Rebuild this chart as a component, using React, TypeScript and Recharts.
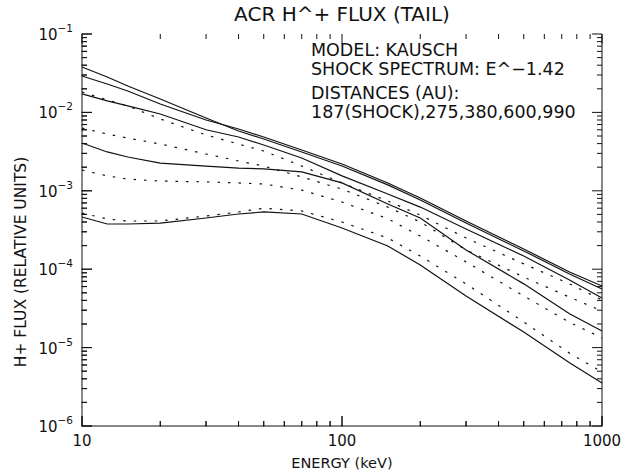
import { ComposedChart, Line, ReferenceLine, Scatter, XAxis, YAxis } from 'recharts';

const ENERGY_KEV = [10, 12.5, 15, 20, 30, 40, 50, 70, 100, 150, 200, 300, 500, 750, 1000];

// solid curves
const SOLID_1 = [0.038, 0.0283, 0.0217, 0.0148, 0.00849, 0.00579, 0.00458, 0.00313, 0.00207, 0.00119, 0.000763, 0.000388, 0.000171, 8.7e-5, 5.6e-5];
const SOLID_2 = [0.0291, 0.023, 0.01875, 0.0128, 0.008, 0.00614, 0.00486, 0.00332, 0.0022, 0.00126, 0.00081, 0.000412, 0.000181, 9.2e-5, 6.1e-5];
const SOLID_3 = [0.0172, 0.014, 0.0121, 0.00954, 0.006, 0.00486, 0.00384, 0.00262, 0.00155, 0.00091, 0.00062, 0.000326, 0.000147, 7.3e-5, 4.3e-5];
const SOLID_4 = [0.00407, 0.00313, 0.0027, 0.00226, 0.00207, 0.00195, 0.0019, 0.00174, 0.00126, 0.00068, 0.00045, 0.000176, 6.5e-5, 2.7e-5, 1.63e-5];
const SOLID_5 = [0.000463, 0.000377, 0.000377, 0.000388, 0.00045, 0.000506, 0.000537, 0.000506, 0.000335, 0.000198, 0.000113, 4.55e-5, 1.58e-5, 6.4e-6, 3.54e-6];

// dotted curves
const DOTTED_1 = [0.0182, 0.0144, 0.0121, 0.00824, 0.00515, 0.00395, 0.00322, 0.00207, 0.00126, 0.00074, 0.00049, 0.00025, 0.000117, 6.5e-5, 4.05e-5];
const DOTTED_2 = [0.0063, 0.0053, 0.0047, 0.00395, 0.00295, 0.0024, 0.00207, 0.0015, 0.00105, 0.00062, 0.0004, 0.000176, 7.95e-5, 4.4e-5, 2.93e-5];
const DOTTED_3 = [0.00184, 0.00155, 0.00141, 0.00133, 0.0013, 0.00126, 0.00122, 0.00102, 0.00072, 0.00044, 0.000265, 0.000124, 4.55e-5, 2.1e-5, 1.33e-5];
const DOTTED_4 = [0.00052, 0.000437, 0.000412, 0.000412, 0.000477, 0.000537, 0.0006, 0.000553, 0.0004, 0.00025, 0.000147, 6.5e-5, 2.12e-5, 8.5e-6, 4.9e-6];

const X_DOMAIN = [10, 1000];
const Y_DOMAIN = [1e-6, 1e-1];
const X_DECADES = [10, 100];
const X_MAJOR = [10, 100, 1000];
const Y_DECADES = [1e-6, 1e-5, 1e-4, 1e-3, 1e-2];
const Y_MAJOR = [1e-6, 1e-5, 1e-4, 1e-3, 1e-2, 1e-1];
const MINOR_STEPS = [2, 3, 4, 5, 6, 7, 8, 9];

const X_TICKS = [...X_MAJOR, ...X_DECADES.flatMap((d) => MINOR_STEPS.map((m) => m * d))].sort((a, b) => a - b);
const Y_TICKS = [...Y_MAJOR, ...Y_DECADES.flatMap((d) => MINOR_STEPS.map((m) => m * d))].sort((a, b) => a - b);

// tick lengths as fractions of a decade (major 10px, minor 5px on this box)
const X_TICK_DEC = { major: 0.0385, minor: 0.0193 };
const Y_TICK_DEC = { major: 0.1276, minor: 0.0638 };

const SERIES = [
  { key: 's1', values: SOLID_1, dashed: false },
  { key: 's2', values: SOLID_2, dashed: false },
  { key: 's3', values: SOLID_3, dashed: false },
  { key: 's4', values: SOLID_4, dashed: false },
  { key: 's5', values: SOLID_5, dashed: false },
  { key: 'd1', values: DOTTED_1, dashed: true },
  { key: 'd2', values: DOTTED_2, dashed: true },
  { key: 'd3', values: DOTTED_3, dashed: true },
  { key: 'd4', values: DOTTED_4, dashed: true },
];

const rows = ENERGY_KEV.map((energy, i) => {
  const row: Record<string, number> = { energy };
  SERIES.forEach((s) => {
    row[s.key] = s.values[i];
  });
  return row;
});

const isMajor = (v: number) => Math.abs(Math.log10(v) - Math.round(Math.log10(v))) < 1e-6;

// segments for the inward ticks on the four sides
const tickSegments = [
  ...X_TICKS.flatMap((v) => {
    const f = 10 ** (isMajor(v) ? Y_TICK_DEC.major : Y_TICK_DEC.minor);
    return [
      [{ x: v, y: Y_DOMAIN[0] }, { x: v, y: Y_DOMAIN[0] * f }],
      [{ x: v, y: Y_DOMAIN[1] }, { x: v, y: Y_DOMAIN[1] / f }],
    ];
  }),
  ...Y_TICKS.flatMap((v) => {
    const f = 10 ** (isMajor(v) ? X_TICK_DEC.major : X_TICK_DEC.minor);
    return [
      [{ x: X_DOMAIN[0], y: v }, { x: X_DOMAIN[0] * f, y: v }],
      [{ x: X_DOMAIN[1], y: v }, { x: X_DOMAIN[1] / f, y: v }],
    ];
  }),
];

const bottomMarks = X_TICKS.map((v) => ({ energy: v, flux: Y_DOMAIN[0] }));
const leftMarks = Y_TICKS.map((v) => ({ energy: X_DOMAIN[0], flux: v }));

const FONT = '"DejaVu Sans", sans-serif';
const INK = '#111';

function BottomMark(props: any) {
  const px = Number(props.cx ?? props.x);
  const py = Number(props.cy ?? props.y);
  const len = isMajor(props.payload.energy) ? 10 : 5;
  return (
    <g>
      <circle cx={px} cy={py} r={0.6} fill={INK} />
      <path d={`M${px},${py}v${-len}`} stroke={INK} strokeWidth={1} fill="none" />
    </g>
  );
}

function LeftMark(props: any) {
  const px = Number(props.cx ?? props.x);
  const py = Number(props.cy ?? props.y);
  const len = isMajor(props.payload.flux) ? 10 : 5;
  return (
    <g>
      <circle cx={px} cy={py} r={0.6} fill={INK} />
      <path d={`M${px},${py}h${len}`} stroke={INK} strokeWidth={1} fill="none" />
    </g>
  );
}

function BottomLabel({ x, y, payload }: any) {
  return (
    <text x={x} y={Number(y) + 20} textAnchor="middle" fontSize={15} fontFamily={FONT} fill={INK}>
      {String(payload.value)}
    </text>
  );
}

function LeftLabel({ x, y, payload }: any) {
  const exp = Math.round(Math.log10(payload.value));
  return (
    <text x={Number(x) - 9} y={Number(y) + 6} textAnchor="end" fontSize={15} fontFamily={FONT} fill={INK}>
      10
      <tspan dy={-8} fontSize={10.5}>
        {'\u2212' + Math.abs(exp)}
      </tspan>
    </text>
  );
}

export default function App() {
  return (
    <div style={{ position: 'absolute', left: 0, top: 0, width: 632, height: 473, background: '#fff' }}>
      <svg width={632} height={473} style={{ position: 'absolute', left: 0, top: 0 }} fontFamily={FONT} fill={INK}>
        <text x={342} y={21} textAnchor="middle" fontSize={20}>
          ACR H^+ FLUX (TAIL)
        </text>
        <text x={311} y={56} fontSize={17.5}>
          MODEL: KAUSCH
        </text>
        <text x={311} y={75} fontSize={17.5}>
          SHOCK SPECTRUM: E^{'\u2212'}1.42
        </text>
        <text x={311} y={99} fontSize={17.5}>
          DISTANCES (AU):
        </text>
        <text x={311} y={118} fontSize={17.5}>
          187(SHOCK),275,380,600,990
        </text>
        <text x={342} y={468} textAnchor="middle" fontSize={14.5}>
          ENERGY (keV)
        </text>
        <text transform="translate(26,262) rotate(-90)" textAnchor="middle" fontSize={15.5}>
          H+ FLUX (RELATIVE UNITS)
        </text>
      </svg>
      <ComposedChart width={632} height={473} data={rows} margin={{ top: 34, right: 30, bottom: 0, left: 0 }}>
        <XAxis
          xAxisId="b"
          dataKey="energy"
          type="number"
          scale="log"
          domain={X_DOMAIN}
          ticks={X_MAJOR}
          interval={0}
          tickSize={0}
          tickMargin={0}
          tickLine={false}
          tick={BottomLabel}
          axisLine={{ stroke: INK }}
          height={47}
        />
        <XAxis
          xAxisId="t"
          orientation="top"
          dataKey="energy"
          type="number"
          scale="log"
          domain={X_DOMAIN}
          ticks={X_MAJOR}
          tickLine={false}
          tick={false}
          axisLine={{ stroke: INK }}
          height={0}
        />
        <YAxis
          yAxisId="l"
          type="number"
          scale="log"
          domain={Y_DOMAIN}
          ticks={Y_MAJOR}
          interval={0}
          tickSize={0}
          tickMargin={0}
          tickLine={false}
          tick={LeftLabel}
          axisLine={{ stroke: INK }}
          width={82}
        />
        <ReferenceLine xAxisId="b" yAxisId="l" x={X_DOMAIN[1]} stroke={INK} strokeWidth={1} />
        {tickSegments.map((seg, i) => (
          <ReferenceLine key={`t${i}`} xAxisId="b" yAxisId="l" segment={seg} stroke={INK} strokeWidth={1} />
        ))}
        {SERIES.map((s) => (
          <Line
            key={s.key}
            xAxisId="b"
            yAxisId="l"
            dataKey={s.key}
            type="linear"
            stroke={INK}
            strokeWidth={1.2}
            strokeDasharray={s.dashed ? '2.5 8' : undefined}
            dot={false}
            activeDot={false}
            isAnimationActive={false}
          />
        ))}
        <Scatter xAxisId="b" yAxisId="l" data={bottomMarks} dataKey="flux" shape={BottomMark} isAnimationActive={false} />
        <Scatter xAxisId="b" yAxisId="l" data={leftMarks} dataKey="flux" shape={LeftMark} isAnimationActive={false} />
      </ComposedChart>
    </div>
  );
}
